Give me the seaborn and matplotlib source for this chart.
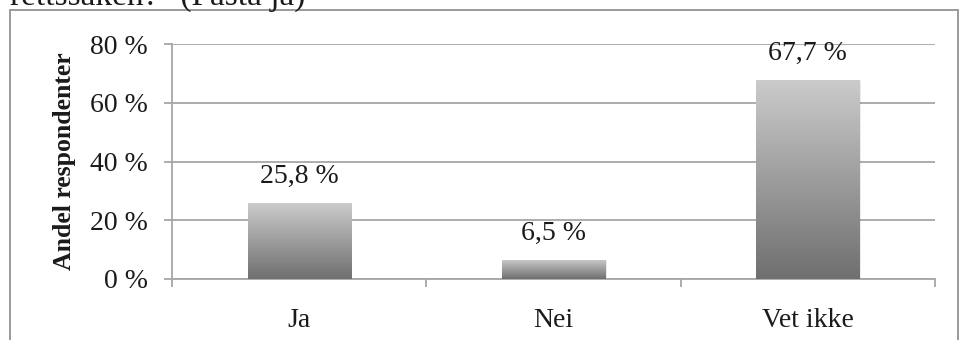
import numpy as np
import pandas as pd
import seaborn as sns
import matplotlib.pyplot as plt
from matplotlib.patches import Rectangle
from matplotlib.colors import LinearSegmentedColormap

categories = ["Ja", "Nei", "Vet ikke"]
shares = [25.8, 6.5, 67.7]
value_labels = ["25,8 %", "6,5 %", "67,7 %"]
yticks = [0, 20, 40, 60, 80]
ytick_labels = ["0 %", "20 %", "40 %", "60 %", "80 %"]
y_title = "Andel respondenter"
question_tail = "rettssaken?\" (Påstå ja)"

sns.set_theme(style="white")
plt.rcParams["font.family"] = ["Liberation Serif", "DejaVu Serif"]

GRID = "#a6a6a6"
FS = 20

fig = plt.figure(figsize=(9.59, 3.40), dpi=100)
ax = fig.add_axes([172 / 959, 61 / 340, 763 / 959, 235 / 340])

df = pd.DataFrame({"kategori": categories, "andel": shares})
sns.barplot(data=df, x="kategori", y="andel", ax=ax, width=0.405,
            color="#999999", saturation=1, zorder=3)

ax.set_ylim(0, 80)
ax.set_xlim(-0.5, len(categories) - 0.5)

# vertical grey gradient inside each bar, light at the top, dark at the base
grad = LinearSegmentedColormap.from_list("bargrad", ["#6f6f6f", "#cbcbcb"])
ramp = np.linspace(0, 1, 256).reshape(-1, 1)
for bar in ax.patches:
    x0, w, h = bar.get_x(), bar.get_width(), bar.get_height()
    # soft drop shadow
    ax.add_patch(Rectangle((x0 + 0.006, 0), w, h - 0.3, facecolor="#000000",
                           alpha=0.08, edgecolor="none", zorder=2))
    im = ax.imshow(ramp, cmap=grad, origin="lower", aspect="auto",
                   extent=(x0, x0 + w, 0, h), zorder=4)
    im.set_clip_path(bar)
    bar.set_edgecolor("none")

for bar, text in zip(ax.patches, value_labels):
    ax.annotate(text, (bar.get_x() + bar.get_width() / 2, bar.get_height()),
                xytext=(0, 19), textcoords="offset points",
                ha="center", va="center", fontsize=FS, color="#1a1a1a")

ax.set_xlim(-0.5, len(categories) - 0.5)
ax.set_ylim(0, 80)

ax.set_yticks(yticks)
ax.set_yticklabels(ytick_labels, fontsize=FS, color="#1a1a1a")
ax.yaxis.grid(True, color=GRID, linewidth=1.3, zorder=0)
ax.set_axisbelow(True)

# category labels at the centres, tick marks at the boundaries
ax.set_xticks(range(len(categories)))
ax.set_xticklabels(categories, fontsize=FS, color="#1a1a1a")
ax.tick_params(axis="x", which="major", length=0, pad=21)
ax.set_xticks([-0.5, 0.5, 1.5, 2.5], minor=True)
ax.tick_params(axis="x", which="minor", length=5.5, width=1.3, color=GRID,
               direction="out", bottom=True)
ax.tick_params(axis="y", length=5.5, width=1.3, color=GRID, pad=12,
               direction="out", left=True)

ax.set_xlabel("")
ax.set_ylabel(y_title, fontsize=18.5, fontweight="bold", color="#1a1a1a",
              labelpad=10)

for side in ("top", "right"):
    ax.spines[side].set_visible(False)
for side in ("left", "bottom"):
    ax.spines[side].set_color(GRID)
    ax.spines[side].set_linewidth(1.3)

# outer chart frame
fig.patches.append(Rectangle((9.5 / 959, -0.1), 948.5 / 959, 1.1 - 10.5 / 340,
                             transform=fig.transFigure, fill=False,
                             edgecolor="#9a9a9a", linewidth=1.4))

# end of the question text sitting above the frame
fig.text(10 / 959, 1 - 5 / 340, question_tail, fontsize=24, color="#1a1a1a",
         ha="left", va="baseline")

fig.savefig("out.png", dpi=100)
